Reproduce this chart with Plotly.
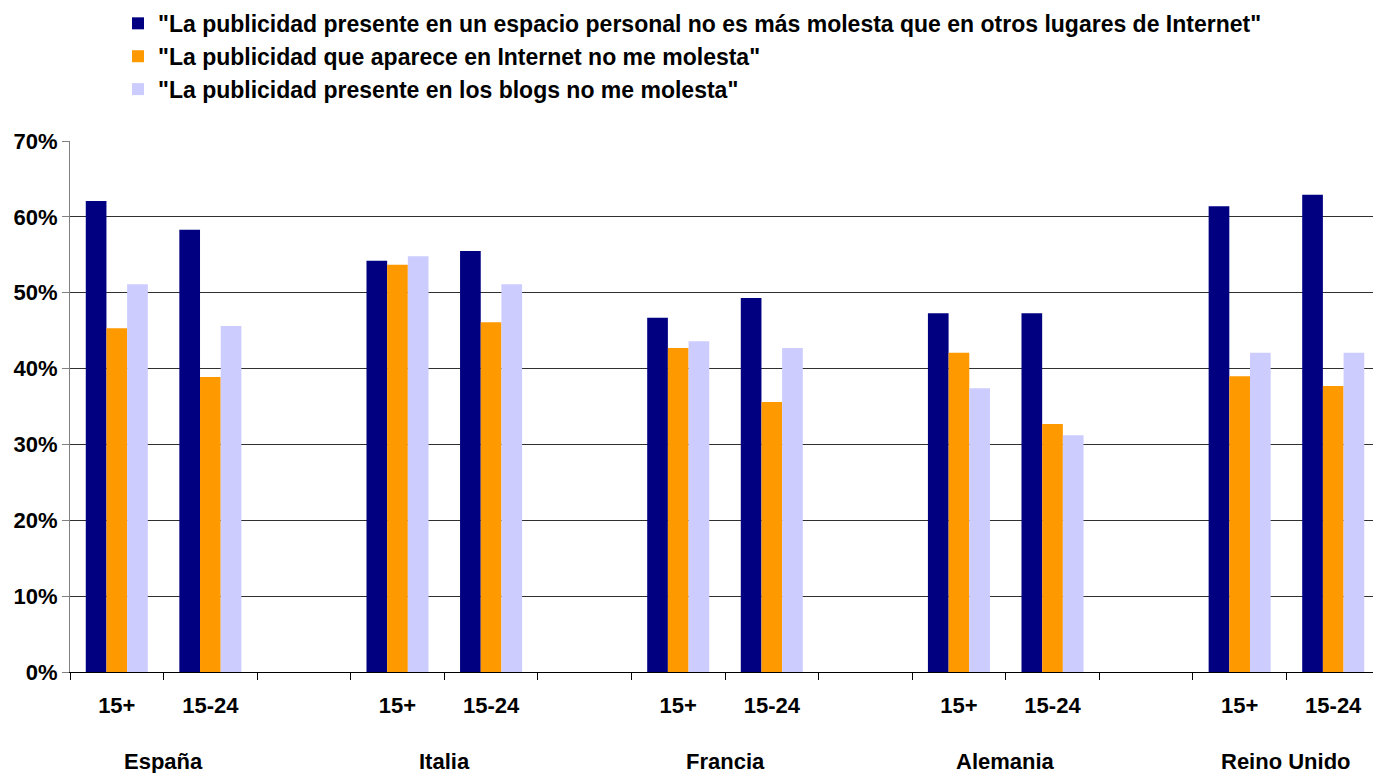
import plotly.graph_objects as go

countries = ["España", "Italia", "Francia", "Alemania", "Reino Unido"]
ages = ["15+", "15-24"]
series_names = [
    '"La publicidad presente en un espacio personal no es más molesta que en otros lugares de Internet"',
    '"La publicidad que aparece en Internet no me molesta"',
    '"La publicidad presente en los blogs no me molesta"',
]
# values in %, order: España 15+, España 15-24, Italia 15+, ...
s_personal = [62.1, 58.3, 54.2, 55.5, 46.7, 49.3, 47.3, 47.3, 61.4, 62.9]
s_internet = [45.3, 38.9, 53.7, 46.1, 42.7, 35.6, 42.1, 32.7, 39.0, 37.7]
s_blogs = [51.1, 45.6, 54.8, 51.1, 43.6, 42.7, 37.4, 31.2, 42.1, 42.1]
colors = ["#000080", "#FF9900", "#CCCCFF"]
y_tickvals = [0, 10, 20, 30, 40, 50, 60, 70]
y_ticktext = [f"{v}%" for v in y_tickvals]

FONT = "Arial, 'Liberation Sans', sans-serif"

# slot positions: each country takes 2 slots followed by one empty slot
xpos = [g * 3 + a for g in range(len(countries)) for a in range(len(ages))]
xtext = [ages[a] for g in range(len(countries)) for a in range(len(ages))]
n_slots = len(countries) * 3 - 1

fig = go.Figure()
for name, vals, col in zip(series_names, [s_personal, s_internet, s_blogs], colors):
    fig.add_trace(go.Bar(x=xpos, y=vals, name=name, marker=dict(color=col, line=dict(width=0)),
                         legendgroup=name))

for g, c in enumerate(countries):
    fig.add_annotation(x=g * 3 + 0.5, y=-0.168, xref="x", yref="paper", text=c, showarrow=False,
                       yanchor="middle", font=dict(family=FONT, size=22, color="black", weight="bold"))

fig.update_layout(
    width=1373, height=773,
    margin=dict(l=70, r=0, t=141, b=101),
    plot_bgcolor="white", paper_bgcolor="white",
    barmode="group", bargap=0.337, bargroupgap=0,
    font=dict(family=FONT, color="black"),
    legend=dict(x=(118 - 70) / 1303, xanchor="left", y=1.262, yanchor="top",
                font=dict(family=FONT, size=23, color="black", weight="bold"),
                bgcolor="rgba(0,0,0,0)", tracegroupgap=4, traceorder="normal"),
    showlegend=True,
)
fig.update_xaxes(
    range=[-0.5, n_slots - 0.575], tickvals=xpos, ticktext=xtext, ticks="",
    showline=True, linecolor="black", linewidth=1, showgrid=False, zeroline=False,
    tickfont=dict(family=FONT, size=22, color="black", weight="bold"),
    ticklabelstandoff=14,
    minor=dict(tickvals=[i - 0.5 for i in range(n_slots + 1)], ticks="outside", ticklen=7,
               tickcolor="black", tickwidth=1, showgrid=False),
)
fig.update_yaxes(
    range=[0, 70], tickvals=y_tickvals, ticktext=y_ticktext, ticks="outside", ticklen=7,
    tickcolor="#808080", showline=True, linecolor="#808080", linewidth=1,
    showgrid=True, gridcolor="#303030", gridwidth=1, zeroline=False,
    tickfont=dict(family=FONT, size=22, color="black", weight="bold"),
)
fig.write_html("out.html", config={"displayModeBar": False},
               post_script="document.body.style.margin='0';document.body.style.overflow='hidden';")
